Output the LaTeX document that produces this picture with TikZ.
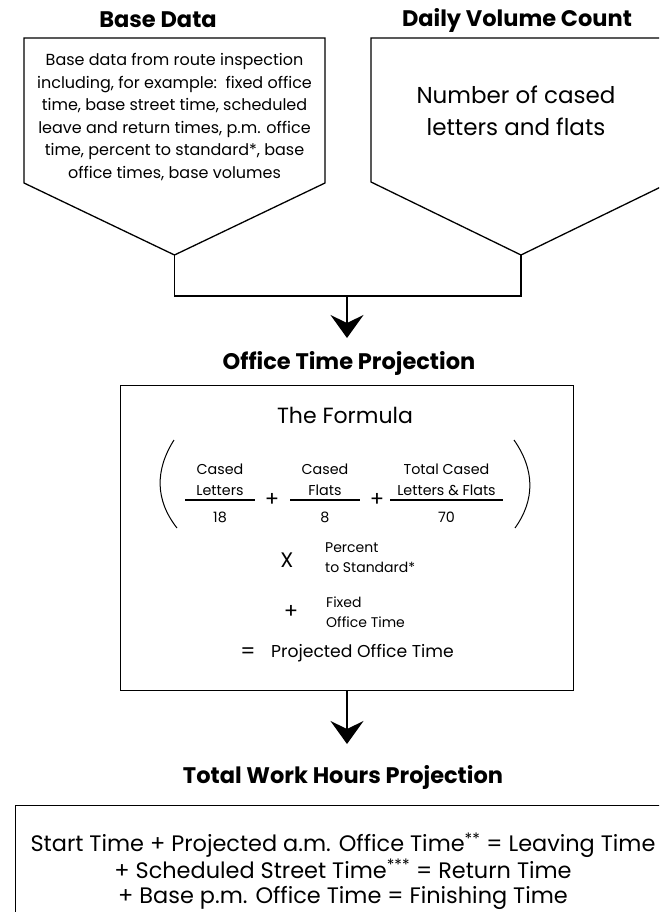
\documentclass[tikz,border=0pt]{standalone}
\usepackage{fontspec}
\setmainfont{Poppins}
\usetikzlibrary{arrows.meta, positioning}
\tikzset{
    heading/.style={
        font=\fontsize{22.5}{26}\selectfont\bfseries, inner sep=0pt
    },
    body/.style={
        align=center, inner sep=0pt
    },
    outline/.style={
        draw=black, line width=1.3pt
    },
    frame/.style={
        draw=black, line width=1pt
    },
    bar/.style={
        line width=1.4pt
    },
    arr/.style={
        -{Stealth[length=23pt, width=33pt, inset=8pt]}, line width=1.3pt
    }
}

\begin{document}
\begin{tikzpicture}[x=1pt, y=-1pt]
    \useasboundingbox (0,0) rectangle (659,912);
    \clip (0,0) rectangle (659,912);

    % Input pentagons
    \draw[outline] (24,38) -- (325,38) -- (325,183)
        -- (174.5,255) coordinate (bdtip) -- (24,183) -- cycle;
    \draw[outline] (371,38) -- (671,38) -- (671,182)
        -- (521,255) coordinate (dvtip) -- (371,182) -- cycle;

    % Nodes
    \node[heading] (bdtitle) at (158,20) {Base Data};
    \node[heading] (dvtitle) at (517,20) {Daily Volume Count};
    \node[body, font=\fontsize{16}{22.5}\selectfont] (bdtext) at (174.5,117)
        {Base data from route inspection\\including, for example:\ \ fixed office\\time, base street time, scheduled\\leave and return times, p.m. office\\time, percent to standard*, base\\office times, base volumes};
    \node[body, font=\fontsize{23}{32}\selectfont] (dvtext) at (516,111)
        {Number of cased\\letters and flats};

    \coordinate (bdjoin) at (174.5,296);
    \coordinate (dvjoin) at (521,296);
    \coordinate (otjoin) at (347,296);
    \coordinate (otin) at (347,338);

    \node[heading] (ottitle) at (349,363) {Office Time Projection};
    \node[frame, minimum width=453pt, minimum height=305pt, inner sep=0pt] (otbox) at (346.5,537.5) {};
    \node[body, font=\fontsize{22}{26}\selectfont] (formula) at (345,415) {The Formula};

    % Fractions
    \node[body, font=\fontsize{14.3}{21}\selectfont, anchor=south] (f1num) at (220,496) {Cased\\Letters};
    \node[body, font=\fontsize{14.3}{21}\selectfont, anchor=south] (f2num) at (325,496) {Cased\\Flats};
    \node[body, font=\fontsize{14.3}{21}\selectfont, anchor=south] (f3num) at (446.5,496) {Total Cased\\Letters \& Flats};
    \node[body, font=\fontsize{14.3}{16}\selectfont] (f1den) at (220,517) {18};
    \node[body, font=\fontsize{14.3}{16}\selectfont] (f2den) at (325,517) {8};
    \node[body, font=\fontsize{14.3}{16}\selectfont] (f3den) at (446.5,517) {70};
    \draw[bar] (185,500) -- (255,500);
    \draw[bar] (290,500) -- (360,500);
    \draw[bar] (390,500) -- (503,500);
    \node[body, font=\fontsize{21}{24}\selectfont] (plus1) at (272,500) {+};
    \node[body, font=\fontsize{21}{24}\selectfont] (plus2) at (377,500) {+};
    \draw[line width=1pt] (174,440) .. controls (155,470) and (155,500) .. (177,528);
    \draw[line width=1pt] (514,440) .. controls (535,470) and (535,500) .. (515,528);

    \node[body, font=\fontsize{21}{24}\selectfont] (times) at (287,560) {X};
    \node[body, font=\fontsize{14}{20}\selectfont, align=left, anchor=west] (pct) at (325,558) {Percent\\to Standard*};
    \node[body, font=\fontsize{21}{24}\selectfont] (plus3) at (291,612) {+};
    \node[body, font=\fontsize{14}{20}\selectfont, align=left, anchor=west] (fixed) at (326,612) {Fixed\\Office Time};
    \node[body, font=\fontsize{21}{24}\selectfont] (equals) at (248,653) {=};
    \node[body, font=\fontsize{17.2}{20}\selectfont, anchor=west] (pot) at (271,653) {Projected Office Time};

    \coordinate (twin) at (347,744);
    \node[heading] (twtitle) at (343,777) {Total Work Hours Projection};
    \draw[frame] (700,805) -- (15,805) -- (15,950);
    \node[body, font=\fontsize{22.4}{25}\selectfont] (twtext) at (343,871)
        {Start Time + Projected a.m. Office Time\textsuperscript{**} = Leaving Time\\+ Scheduled Street Time\textsuperscript{***} = Return Time\\+ Base p.m. Office Time = Finishing Time};

    % Edges
    \draw[outline] (bdtip) -- (bdjoin) -- (dvjoin) -- (dvtip);
    \draw[arr] (otjoin) -- (otin);
    \draw[arr] (otbox.south -| twin) -- (twin);

\end{tikzpicture}
\end{document}
